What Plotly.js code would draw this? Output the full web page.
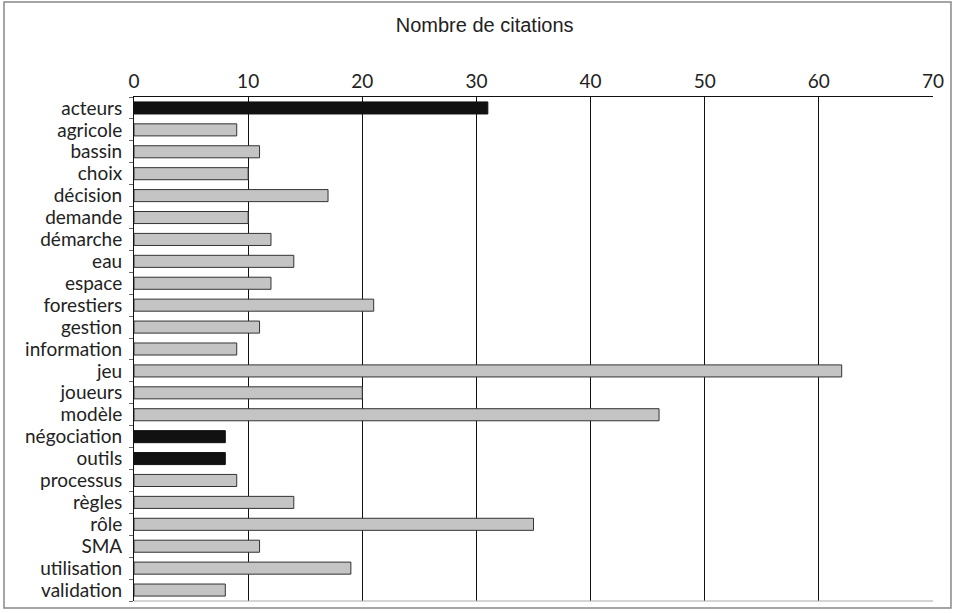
<!DOCTYPE html>
<html>
<head>
<meta charset="utf-8">
<script src="https://cdn.plot.ly/plotly-3.0.1.min.js"></script>
<style>
  html, body { margin: 0; padding: 0; background: #ffffff; }
  #chart { width: 956px; height: 613px; }
</style>
</head>
<body>
<div id="chart"></div>
<script>
// Mots-clés et nombre de citations
const categories = ["acteurs", "agricole", "bassin", "choix", "décision", "demande",
  "démarche", "eau", "espace", "forestiers", "gestion", "information", "jeu",
  "joueurs", "modèle", "négociation", "outils", "processus", "règles", "rôle",
  "SMA", "utilisation", "validation"];
const citations = [31, 9, 11, 10, 17, 10, 12, 14, 12, 21, 11, 9, 62, 20, 46, 8, 8,
  9, 14, 35, 11, 19, 8];
// Mots-clés mis en évidence (barres noires)
const highlighted = ["acteurs", "négociation", "outils"];
const xTicks = [0, 10, 20, 30, 40, 50, 60, 70];

const colors = categories.map(c => highlighted.includes(c) ? "#111111" : "#c4c4c4");
const lineColors = categories.map(c => highlighted.includes(c) ? "#111111" : "#333333");

const trace = {
  type: "bar",
  orientation: "h",
  y: categories,
  x: citations,
  marker: { color: colors, line: { color: lineColors, width: 1 } },
  hoverinfo: "x+y"
};

const labelFont = { family: "Lato, 'Noto Sans', sans-serif", size: 19, color: "#222222" };

const layout = {
  width: 956,
  height: 613,
  margin: { l: 134, r: 23, t: 97, b: 12 },
  paper_bgcolor: "#ffffff",
  plot_bgcolor: "#ffffff",
  bargap: 0.45,
  showlegend: false,
  title: {
    text: "Nombre de citations",
    font: { family: "'Liberation Sans', Arial, sans-serif", size: 20, color: "#222222" },
    x: 0.507, xanchor: "center",
    y: 0.96, yref: "container", yanchor: "middle"
  },
  xaxis: {
    side: "top",
    range: [0, 70],
    tickmode: "array",
    tickvals: xTicks,
    ticktext: xTicks.map(String),
    showgrid: true,
    gridcolor: "#111111",
    gridwidth: 1,
    zeroline: false,
    showline: true,
    linecolor: "#111111",
    linewidth: 1,
    ticks: "",
    tickfont: labelFont,
    fixedrange: true
  },
  yaxis: {
    type: "category",
    categoryorder: "array",
    categoryarray: categories,
    tickmode: "array",
    tickvals: categories,
    ticktext: categories,
    autorange: "reversed",
    showline: true,
    linecolor: "#111111",
    linewidth: 1,
    ticks: "outside",
    tickson: "boundaries",
    ticklen: 4,
    tickcolor: "#666666",
    showgrid: false,
    tickfont: labelFont,
    ticklabelstandoff: 7,
    fixedrange: true
  },
  shapes: [
    // cadre extérieur
    { type: "rect", xref: "paper", yref: "paper",
      x0: -0.1627, x1: 1.0225, y0: -0.0139, y1: 1.1885,
      line: { color: "#888888", width: 1.5 } },
    // bas de la zone de tracé
    { type: "line", xref: "paper", yref: "paper",
      x0: 0, x1: 1, y0: 0, y1: 0,
      line: { color: "#aaaaaa", width: 1 } }
  ]
};

Plotly.newPlot("chart", [trace], layout, { displayModeBar: false, staticPlot: true });
</script>
</body>
</html>
